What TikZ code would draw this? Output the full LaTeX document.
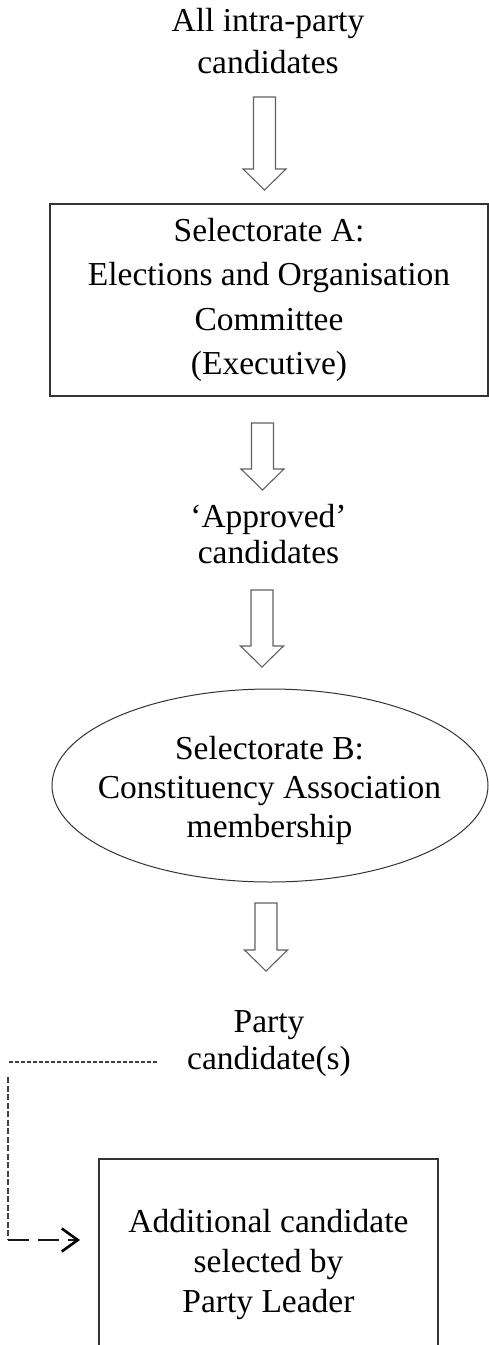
\documentclass[tikz,border=0pt]{standalone}
\usepackage{fontspec}
\setmainfont{Liberation Serif}
\usetikzlibrary{calc,shapes.geometric,arrows.meta}
\newcommand\blockarrow[2]{%
  \draw[barrow] ($(#1)+(-11,0)$) -- ($(#1)+(11,0)$) -- ($(#2)+(11,-21)$) -- ($(#2)+(21.5,-21)$) -- (#2) -- ($(#2)+(-21.5,-21)$) -- ($(#2)+(-11,-21)$) -- cycle;}
\begin{document}
\begin{tikzpicture}[x=1pt,y=-1pt,
  txt/.style={align=center,inner sep=0pt,text=black},
  fs/.style={font=\fontsize{33.5}{#1}\selectfont},
  frame/.style={draw=black!80,line width=1.4pt},
  barrow/.style={draw=black!62,line width=1.1pt,fill=white,line join=miter},
  finedash/.style={draw=black!75,line width=1.1pt,dash pattern=on 4pt off 2pt},
  vdash/.style={draw=black!75,line width=1.1pt,dash pattern=on 6pt off 2.5pt},
  longdash/.style={draw=black!90,line width=2pt,dash pattern=on 21pt off 9pt,
    -{Straight Barb[length=16pt,width=23pt,line width=2.6pt,color=black]}}]
\useasboundingbox (0,0) rectangle (489,1345);
\clip (0,0) rectangle (489,1345);

\node[txt,fs=42] (top) at (268,41.5) {All intra-party\\candidates};
\node[frame,txt,fs=44.3,minimum width=438,minimum height=192] (selA) at (269,300)
  {Selectorate A:\\Elections and Organisation\\Committee\\(Executive)};
\node[txt,fs=36] (appr) at (268.5,533.6) {‘Approved’\\candidates};
\node[draw=black!80,line width=1pt,ellipse,minimum width=436,minimum height=193,inner sep=0pt] (selB) at (270,785.5) {};
\node[txt,fs=39] (selBt) at (269.5,790.2) {Selectorate B:\\Constituency Association\\membership};
\node[txt,fs=37] (party) at (269,1043.4) {Party\\candidate(s)};
\node[frame,txt,fs=40,minimum width=339,minimum height=211] (addl) at (268.5,1264.5)
  {Additional candidate\\selected by\\Party Leader};

\coordinate (a1s) at (264.5,97);  \coordinate (a1e) at (264.5,190);
\coordinate (a2s) at (262.5,423); \coordinate (a2e) at (262.5,490);
\coordinate (a3s) at (262,590);   \coordinate (a3e) at (262,667);
\coordinate (a4s) at (266,903);   \coordinate (a4e) at (266,971);
\blockarrow{a1s}{a1e}
\blockarrow{a2s}{a2e}
\blockarrow{a3s}{a3e}
\blockarrow{a4s}{a4e}

\coordinate (d0) at (157,1062);
\coordinate (d1) at (8,1062);
\coordinate (d2) at (8,1240);
\coordinate (d3) at (80,1240);
\draw[finedash] (d0) -- (d1);
\draw[vdash] ($(d1)+(0,15)$) -- (d2);
\draw[longdash] (d2) -- (d3);
\end{tikzpicture}
\end{document}
